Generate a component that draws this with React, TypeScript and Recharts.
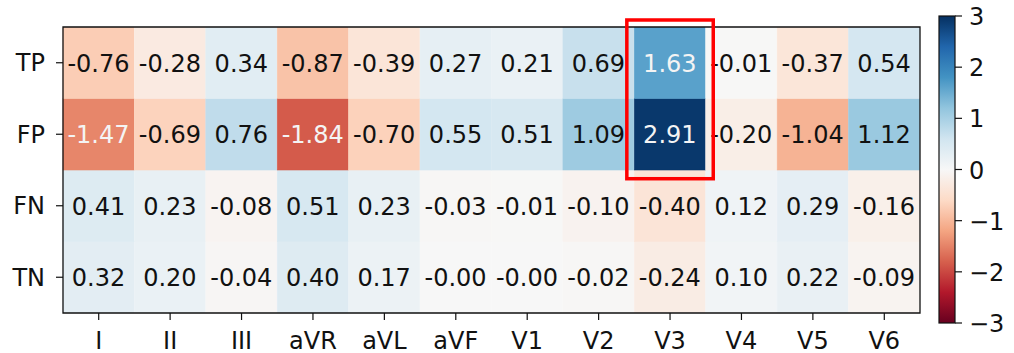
import React from 'react';
import { BarChart, Bar, XAxis, YAxis, ReferenceArea } from 'recharts';

const leads = ['I', 'II', 'III', 'aVR', 'aVL', 'aVF', 'V1', 'V2', 'V3', 'V4', 'V5', 'V6'];
const rowNames = ['TP', 'FP', 'FN', 'TN'];
const tpValues = [-0.76, -0.28, 0.34, -0.87, -0.39, 0.27, 0.21, 0.69, 1.63, -0.01, -0.37, 0.54];
const fpValues = [-1.47, -0.69, 0.76, -1.84, -0.70, 0.55, 0.51, 1.09, 2.91, -0.20, -1.04, 1.12];
const fnValues = [0.41, 0.23, -0.08, 0.51, 0.23, -0.03, -0.01, -0.10, -0.40, 0.12, 0.29, -0.16];
const tnValues = [0.32, 0.20, -0.04, 0.40, 0.17, -0.004, -0.003, -0.02, -0.24, 0.10, 0.22, -0.09];
const colorbarTicks = [3, 2, 1, 0, -1, -2, -3];
const vmin = -3;
const vmax = 3;

const RDBU = [
  [103, 0, 31], [178, 24, 43], [214, 96, 77], [244, 165, 130], [253, 219, 199],
  [247, 247, 247], [209, 229, 240], [146, 197, 222], [67, 147, 195], [33, 102, 172], [5, 48, 97],
];

function colorOf(v: number) {
  let t = (v - vmin) / (vmax - vmin);
  t = Math.max(0, Math.min(1, t));
  const p = t * (RDBU.length - 1);
  const i = Math.min(Math.floor(p), RDBU.length - 2);
  const f = p - i;
  const a = RDBU[i], b = RDBU[i + 1];
  const c = a.map((x, k) => Math.round(x + (b[k] - x) * f));
  return `rgb(${c[0]},${c[1]},${c[2]})`;
}

function fmt(v: number) {
  const s = Math.abs(v).toFixed(2);
  return (v < 0 ? '-' : '') + s;
}

const seriesByRow: Record<string, number[]> = { TP: tpValues, FP: fpValues, FN: fnValues, TN: tnValues };
// stack order bottom -> top
const stackOrder = ['TN', 'FN', 'FP', 'TP'];

const data = leads.map((lead, i) => {
  const row: any = { lead };
  rowNames.forEach((r) => { row[r] = seriesByRow[r][i]; });
  return row;
});

const FONT = '"DejaVu Sans", sans-serif';
const FS = 24;

const makeShape = (key: string) => (props: any) => {
  const { x, y, width, height, payload } = props;
  const v = payload[key] as number;
  const fill = colorOf(v);
  const white = Math.abs(v) > 1.3;
  return (
    <g>
      <rect x={x} y={y} width={width} height={height} fill={fill} stroke={fill} strokeWidth={0.6} />
      <text
        x={x + width / 2}
        y={y + height / 2 + 1}
        textAnchor="middle"
        dominantBaseline="central"
        fontFamily={FONT}
        fontSize={FS}
        fill={white ? '#f4f4f4' : '#111'}
      >
        {fmt(v)}
      </text>
    </g>
  );
};

const highlightShape = (props: any) => {
  const { x, y, width, height } = props;
  const pad = 7.5;
  return (
    <rect x={x - pad} y={y} width={width + 2 * pad} height={height} fill="none" stroke="#f00" strokeWidth={3.5} />
  );
};

const rowTick = (v: number) => {
  const idx = Math.round(v - 0.5);
  return stackOrder[idx] ?? '';
};

const Colorbar = () => {
  const x0 = 939, x1 = 955, top = 16, bottom = 323;
  const yOf = (v: number) => bottom - ((v - vmin) / (vmax - vmin)) * (bottom - top);
  return (
    <svg width={1014} height={353} style={{ position: 'absolute', left: 0, top: 0, pointerEvents: 'none' }}>
      <defs>
        <linearGradient id="rdbu" x1="0" y1="1" x2="0" y2="0">
          {RDBU.map((c, i) => (
            <stop key={i} offset={i / (RDBU.length - 1)} stopColor={`rgb(${c[0]},${c[1]},${c[2]})`} />
          ))}
        </linearGradient>
      </defs>
      <rect x={x0} y={top} width={x1 - x0} height={bottom - top} fill="url(#rdbu)" stroke="#111" strokeWidth={1.2} />
      {colorbarTicks.map((t) => (
        <g key={t}>
          <line x1={x1} x2={x1 + 7} y1={yOf(t)} y2={yOf(t)} stroke="#111" strokeWidth={1.2} />
          <text x={x1 + 14} y={yOf(t) + 1} dominantBaseline="central" fontFamily={FONT} fontSize={FS} fill="#111">
            {t < 0 ? `\u2212${Math.abs(t)}` : `${t}`}
          </text>
        </g>
      ))}
    </svg>
  );
};

export default function App() {
  return (
    <div style={{ position: 'absolute', left: 0, top: 0, width: 1014, height: 353, background: '#fff' }}>
      <BarChart
        width={1014}
        height={353}
        data={data}
        margin={{ top: 27, right: 94, left: 0, bottom: 0 }}
        barCategoryGap={0}
        barGap={0}
      >
        <XAxis
          dataKey="lead"
          type="category"
          height={40}
          axisLine={false}
          tickLine={{ stroke: '#111', strokeWidth: 1.2 }}
          tickSize={7}
          tickMargin={12}
          interval={0}
          tick={{ fontFamily: FONT, fontSize: FS, fill: '#111' }}
        />
        <YAxis
          type="number"
          domain={[0, 4]}
          ticks={[0.5, 1.5, 2.5, 3.5]}
          tickFormatter={rowTick}
          width={63}
          axisLine={false}
          tickLine={{ stroke: '#111', strokeWidth: 1.2 }}
          tickSize={7}
          tickMargin={11}
          allowDataOverflow
          tick={{ fontFamily: FONT, fontSize: FS, fill: '#111' }}
        />
        {stackOrder.map((key) => (
          <Bar
            key={key}
            dataKey={() => 1}
            stackId="heat"
            isAnimationActive={false}
            shape={makeShape(key)}
          />
        ))}
        <ReferenceArea
          y1={0}
          y2={4}
          fill="none"
          stroke="#111"
          strokeWidth={1.3}
          fillOpacity={0}
          ifOverflow="visible"
          zIndex={1000}
        />
        <ReferenceArea
          x1="V3"
          x2="V3"
          y1={1.878}
          y2={4.098}
          ifOverflow="visible"
          shape={highlightShape}
          zIndex={1001}
        />
      </BarChart>
      <Colorbar />
    </div>
  );
}
